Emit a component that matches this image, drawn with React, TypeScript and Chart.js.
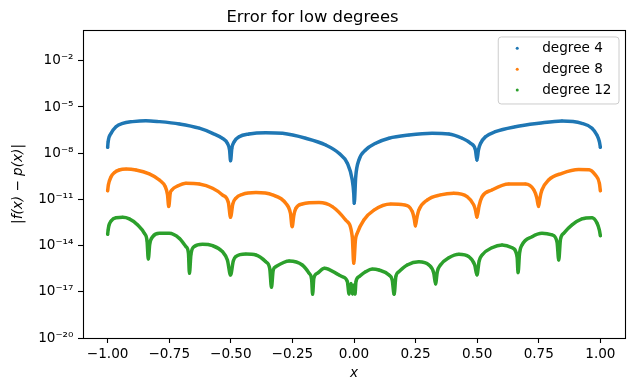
import React, { useEffect, useRef } from 'react';
import { Chart, registerables } from 'chart.js';

Chart.register(...registerables);

const FONT = "'DejaVu Sans', sans-serif";

// Series labels and colours
const seriesLabels = ['degree 4', 'degree 8', 'degree 12'];
const seriesColors = ['#1f77b4', '#ff7f0e', '#2ca02c'];

// degree 4
const deg4X = [-1.0, -0.998, -0.986, -0.966, -0.939, -0.899, -0.845, -0.79, -0.709, -0.628, -0.574, -0.534, -0.514, -0.505, -0.501, -0.496, -0.486, -0.466, -0.426, -0.358, -0.29, -0.196, -0.115, -0.061, -0.027, -0.007, -0.001, 0.001, 0.007, 0.02, 0.047, 0.088, 0.142, 0.223, 0.317, 0.385, 0.439, 0.473, 0.493, 0.499, 0.505, 0.514, 0.534, 0.574, 0.655, 0.75, 0.844, 0.925, 0.966, 0.986, 0.996, 1.0];
const deg4Err = [2.4e-8, 5.6e-8, 1.95e-7, 5.25e-7, 8.7e-7, 1.12e-6, 1.29e-6, 1.12e-6, 7.9e-7, 4.2e-7, 1.95e-7, 9.3e-8, 4.4e-8, 1.6e-8, 3.2e-9, 2.0e-8, 5.6e-8, 1.17e-7, 1.78e-7, 2.14e-7, 1.95e-7, 9.3e-8, 3.4e-8, 9.8e-9, 2.2e-9, 1.8e-10, 2.5e-11, 5.6e-12, 3.0e-10, 3.6e-9, 1.6e-8, 4.4e-8, 9.3e-8, 1.5e-7, 1.95e-7, 1.78e-7, 9.3e-8, 4.4e-8, 1.6e-8, 3.5e-9, 1.6e-8, 4.4e-8, 1.17e-7, 2.5e-7, 5.25e-7, 8.7e-7, 1.23e-6, 8.7e-7, 4.2e-7, 1.5e-7, 5.6e-8, 2.4e-8];

// degree 8
const deg8X = [-1.0, -0.997, -0.986, -0.973, -0.953, -0.925, -0.885, -0.831, -0.79, -0.766, -0.757, -0.752, -0.746, -0.739, -0.716, -0.682, -0.628, -0.574, -0.534, -0.51, -0.501, -0.492, -0.48, -0.453, -0.398, -0.331, -0.277, -0.258, -0.251, -0.244, -0.236, -0.21, -0.142, -0.088, -0.034, -0.007, -0.001, 0.006, 0.013, 0.04, 0.081, 0.149, 0.203, 0.237, 0.245, 0.249, 0.255, 0.263, 0.297, 0.351, 0.405, 0.459, 0.486, 0.493, 0.499, 0.508, 0.52, 0.56, 0.628, 0.696, 0.73, 0.742, 0.749, 0.755, 0.763, 0.79, 0.844, 0.912, 0.953, 0.98, 0.996, 1.0];
const deg8Err = [3.6e-11, 8.7e-11, 2.95e-10, 5.4e-10, 8.1e-10, 9.3e-10, 8.1e-10, 4.5e-10, 1.82e-10, 6.6e-11, 2.0e-11, 3.4e-12, 2.5e-11, 4.1e-11, 7.4e-11, 1.12e-10, 1.0e-10, 5.25e-11, 1.95e-11, 6.3e-12, 6.9e-13, 5.0e-12, 1.17e-11, 2.14e-11, 2.75e-11, 1.95e-11, 5.6e-12, 1.26e-12, 1.7e-13, 1.0e-12, 2.6e-12, 5.0e-12, 6.2e-12, 3.4e-12, 4.6e-13, 3.8e-14, 7.1e-16, 2.5e-14, 6.3e-14, 4.6e-13, 2.0e-12, 5.0e-12, 4.4e-12, 1.58e-12, 5.0e-13, 1.86e-13, 6.3e-13, 2.0e-12, 9.1e-12, 1.95e-11, 2.5e-11, 1.51e-11, 4.4e-12, 2.0e-12, 6.9e-13, 4.0e-12, 1.51e-11, 4.1e-11, 1.0e-10, 1.0e-10, 4.1e-11, 1.26e-11, 3.4e-12, 1.26e-11, 4.1e-11, 1.82e-10, 4.9e-10, 8.7e-10, 8.5e-10, 3.8e-10, 1.12e-10, 3.6e-11];

// degree 12
const deg12X = [-1.0, -0.998, -0.995, -0.986, -0.966, -0.939, -0.912, -0.878, -0.851, -0.84, -0.835, -0.829, -0.817, -0.79, -0.75, -0.709, -0.682, -0.672, -0.668, -0.662, -0.649, -0.615, -0.574, -0.534, -0.514, -0.501, -0.49, -0.48, -0.439, -0.398, -0.358, -0.342, -0.335, -0.328, -0.317, -0.263, -0.21, -0.182, -0.172, -0.168, -0.163, -0.149, -0.12, -0.061, -0.047, -0.027, -0.02, -0.012, -0.006, 0.0, 0.004, 0.008, 0.02, 0.047, 0.074, 0.101, 0.142, 0.155, 0.163, 0.17, 0.182, 0.216, 0.263, 0.304, 0.324, 0.331, 0.338, 0.351, 0.385, 0.426, 0.466, 0.49, 0.499, 0.508, 0.52, 0.56, 0.601, 0.642, 0.662, 0.666, 0.672, 0.682, 0.723, 0.763, 0.804, 0.824, 0.831, 0.838, 0.851, 0.885, 0.925, 0.966, 0.986, 0.996, 1.0];
const deg12Err = [5.4e-14, 1.02e-13, 1.95e-13, 4.0e-13, 6.5e-13, 6.9e-13, 5.4e-13, 2.2e-13, 6.3e-14, 2.0e-14, 1.35e-15, 1.26e-14, 3.8e-14, 6.3e-14, 6.3e-14, 2.95e-14, 8.5e-15, 3.2e-15, 1.58e-16, 2.5e-15, 8.5e-15, 1.2e-14, 9.8e-15, 4.0e-15, 1.15e-15, 1.23e-16, 1.0e-15, 1.9e-15, 2.8e-15, 2.45e-15, 8.9e-16, 3.2e-16, 1.95e-17, 2.5e-16, 4.3e-16, 1.0e-15, 5.5e-16, 1.58e-16, 6.3e-17, 6.9e-18, 7.9e-17, 1.58e-16, 3.4e-16, 1.23e-16, 9.5e-17, 4.6e-17, 7.2e-18, 3.5e-17, 7.2e-18, 2.75e-17, 7.2e-18, 4.6e-17, 9.5e-17, 2.0e-16, 3.0e-16, 2.6e-16, 1.23e-16, 5.9e-17, 6.9e-18, 1.0e-16, 2.0e-16, 5.5e-16, 8.9e-16, 5.5e-16, 1.58e-16, 3.2e-17, 2.0e-16, 5.5e-16, 1.62e-15, 2.75e-15, 1.9e-15, 5.5e-16, 1.23e-16, 1.0e-15, 2.45e-15, 7.2e-15, 1.1e-14, 7.2e-15, 1.9e-15, 1.74e-16, 3.2e-15, 1.1e-14, 3.8e-14, 6.3e-14, 4.9e-14, 1.78e-14, 1.15e-15, 2.5e-14, 6.3e-14, 2.2e-13, 5.4e-13, 6.5e-13, 3.0e-13, 1.02e-13, 4.4e-14];

// Axis ticks
const xTickValues = [-1.0, -0.75, -0.5, -0.25, 0.0, 0.25, 0.5, 0.75, 1.0];
const xTickLabels = ['\u22121.00', '\u22120.75', '\u22120.50', '\u22120.25', '0.00', '0.25', '0.50', '0.75', '1.00'];
const yTickValues = [1e-20, 1e-17, 1e-14, 1e-11, 1e-8, 1e-5, 1e-2];
const yTickLabels = ['10\u207B\u00B2\u2070', '10\u207B\u00B9\u2077', '10\u207B\u00B9\u2074', '10\u207B\u00B9\u00B9', '10\u207B\u2078', '10\u207B\u2075', '10\u207B\u00B2'];

const TICK_FS = 13.6;

const framePlugin = {
  id: 'mplFrame',
  afterDatasetsDraw(chart: any) {
    const { ctx, chartArea } = chart;
    ctx.save();
    ctx.strokeStyle = '#000';
    ctx.lineWidth = 1.1;
    const l = Math.round(chartArea.left) + 0.5;
    const t = Math.round(chartArea.top) + 0.5;
    const r = Math.round(chartArea.right) + 0.5;
    const b = Math.round(chartArea.bottom) + 0.5;
    ctx.strokeRect(l, t, r - l, b - t);
    ctx.restore();
  },
};

const legendPlugin = {
  id: 'mplLegend',
  afterDraw(chart: any) {
    const { ctx, chartArea } = chart;
    ctx.save();
    ctx.font = `${TICK_FS}px ${FONT}`;
    const textW = Math.max(...seriesLabels.map((t) => ctx.measureText(t).width));
    const w = textW + 51.5;
    const h = 67;
    const right = chartArea.right - 6;
    const left = right - w;
    const top = chartArea.top + 7;
    const rad = 3;
    ctx.beginPath();
    ctx.moveTo(left + rad, top);
    ctx.arcTo(right, top, right, top + h, rad);
    ctx.arcTo(right, top + h, left, top + h, rad);
    ctx.arcTo(left, top + h, left, top, rad);
    ctx.arcTo(left, top, right, top, rad);
    ctx.closePath();
    ctx.fillStyle = 'rgba(255,255,255,0.8)';
    ctx.fill();
    ctx.strokeStyle = '#cccccc';
    ctx.lineWidth = 1;
    ctx.stroke();
    ctx.textBaseline = 'middle';
    ctx.textAlign = 'left';
    seriesLabels.forEach((label, i) => {
      const y = top + 11.3 + i * 20.85;
      ctx.fillStyle = seriesColors[i];
      ctx.beginPath();
      ctx.arc(left + 19, y, 1.5, 0, Math.PI * 2);
      ctx.fill();
      ctx.fillStyle = '#000';
      ctx.fillText(label, left + 44, y + 0.5);
    });
    ctx.restore();
  },
};

function makeDataset(xs: number[], ys: number[], i: number) {
  return {
    label: seriesLabels[i],
    data: xs.map((x, k) => ({ x, y: ys[k] })),
    showLine: true,
    borderColor: seriesColors[i],
    backgroundColor: seriesColors[i],
    borderWidth: 3.5,
    borderJoinStyle: 'round' as const,
    borderCapStyle: 'round' as const,
    cubicInterpolationMode: 'monotone' as const,
    pointRadius: 1.4,
    pointBorderWidth: 0,
    pointBackgroundColor: seriesColors[i],
    pointHoverRadius: 0,
  };
}

export default function App() {
  const ref = useRef<HTMLCanvasElement>(null);
  useEffect(() => {
    const canvas = ref.current;
    if (!canvas) return;
    const chart = new Chart(canvas, {
      type: 'scatter',
      data: {
        datasets: [
          makeDataset(deg4X, deg4Err, 0),
          makeDataset(deg8X, deg8Err, 1),
          makeDataset(deg12X, deg12Err, 2),
        ],
      },
      options: {
        animation: false,
        responsive: false,
        maintainAspectRatio: false,
        devicePixelRatio: 1,
        events: [],
        layout: { padding: { left: 0, right: 10, top: 0, bottom: 0 } },
        plugins: {
          legend: { display: false },
          tooltip: { enabled: false },
          title: {
            display: true,
            text: 'Error for low degrees',
            color: '#000',
            font: { family: FONT, size: 16.4, weight: 'normal' },
            padding: { top: 7.5, bottom: 2.8 },
          },
        },
        scales: {
          x: {
            type: 'linear',
            min: -1.1,
            max: 1.1,
            bounds: 'data',
            afterBuildTicks: (scale: any) => {
              scale.ticks = xTickValues.map((v) => ({ value: v }));
            },
            afterFit: (scale: any) => {
              scale.height = 53;
            },
            grid: {
              display: true,
              drawOnChartArea: false,
              drawTicks: true,
              tickLength: 5,
              tickColor: '#000',
              tickWidth: 1.1,
            },
            border: { display: false },
            ticks: {
              color: '#000',
              font: { family: FONT, size: TICK_FS },
              padding: 3.5,
              maxRotation: 0,
              autoSkip: false,
              callback: (_v: any, i: number) => xTickLabels[i],
            },
            title: {
              display: true,
              text: 'x',
              color: '#000',
              font: { family: FONT, size: TICK_FS, style: 'italic' },
              padding: { top: 0, bottom: 9.5 },
            },
          },
          y: {
            type: 'logarithmic',
            min: 1e-20,
            max: 1,
            bounds: 'data',
            afterBuildTicks: (scale: any) => {
              scale.ticks = yTickValues.map((v) => ({ value: v, major: true }));
            },
            afterFit: (scale: any) => {
              scale.width = 83;
            },
            grid: {
              display: true,
              drawOnChartArea: false,
              drawTicks: true,
              tickLength: 5,
              tickColor: '#000',
              tickWidth: 1.1,
            },
            border: { display: false },
            ticks: {
              color: '#000',
              font: { family: FONT, size: TICK_FS },
              padding: 4.5,
              autoSkip: false,
              callback: (_v: any, i: number) => yTickLabels[i],
            },
            title: {
              display: true,
              text: '|f(x) \u2212 p(x)|',
              color: '#000',
              font: { family: FONT, size: TICK_FS, style: 'italic' },
              padding: { top: 10, bottom: 0 },
            },
          },
        },
      } as any,
      plugins: [framePlugin, legendPlugin],
    });
    return () => chart.destroy();
  }, []);
  return (
    <div style={{ position: 'fixed', left: 0, top: 0, width: 635, height: 391, background: '#fff' }}>
      <canvas ref={ref} width={635} height={391} style={{ width: 635, height: 391, display: 'block' }} />
    </div>
  );
}
